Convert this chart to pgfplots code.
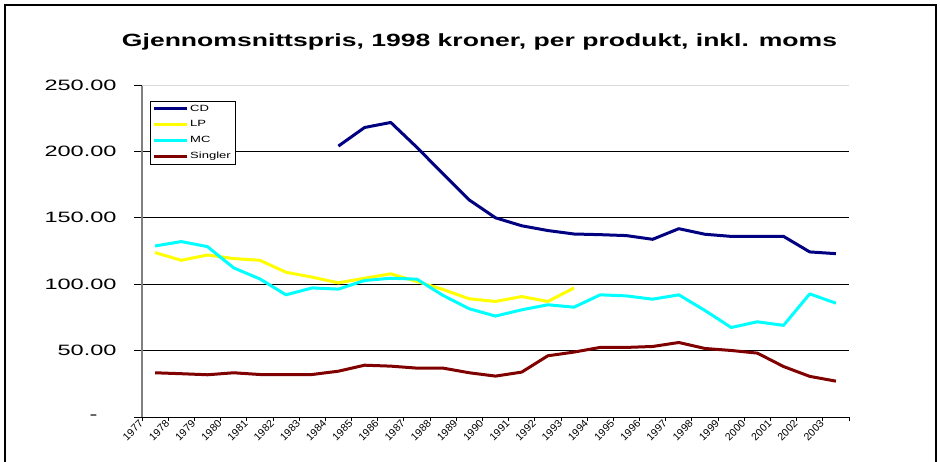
\documentclass[border=0pt]{standalone}
\usepackage{fontspec}
\setmainfont{Liberation Sans}
\newfontfamily\titlefont[FakeStretch=1.5]{Liberation Sans}
\newfontfamily\ytfont[FakeStretch=1.57]{Liberation Sans}
\newfontfamily\legfont[FakeStretch=1.45]{Liberation Sans}
\usepackage{pgfplots}
\pgfplotsset{compat=1.18}
\definecolor{cdc}{HTML}{000080}
\definecolor{lpc}{HTML}{FFFF00}
\definecolor{mcc}{HTML}{00FFFF}
\definecolor{sgc}{HTML}{800000}
\begin{document}
\begin{tikzpicture}
\path[use as bounding box] (0pt,0pt) rectangle (940pt,461pt);
\draw[line width=2pt] (5pt,-5pt) -- (5pt,455.5pt) -- (936pt,455.5pt) -- (936pt,-5pt);
\node[anchor=base, inner sep=0pt, font=\titlefont\bfseries\fontsize{17.7}{20}\selectfont] at (479.5pt,414pt) {Gjennomsnittspris, 1998 kroner, per produkt, inkl. moms};
\begin{axis}[
  at={(142pt,44pt)}, anchor=south west, scale only axis,
  width=707pt, height=332pt,
  xmin=0, xmax=27, ymin=0, ymax=250,
  axis x line=bottom, axis y line=left, axis line style={-},
  x axis line style={black, line width=1pt},
  y axis line style={gray, line width=2pt},
  tick align=outside,
  xtick={0,1,...,27},
  xticklabels={1977,1978,1979,1980,1981,1982,1983,1984,1985,1986,1987,1988,1989,1990,1991,1992,1993,1994,1995,1996,1997,1998,1999,2000,2001,2002,2003,{}},
  xtick style={black, line width=0.8pt, /pgfplots/major tick length=4pt},
  xticklabel style={font=\fontsize{10.5}{11}\selectfont, rotate=45, anchor=east, inner sep=1pt},
  ytick={0,50,100,150,200},
  yticklabels={{\makebox[27pt][l]{-}},50.00,100.00,150.00,200.00},
  extra y ticks={250},
  extra y tick labels={250.00},
  extra y tick style={ymajorgrids=true, major grid style={gray!30, line width=1pt}},
  ytick style={black, line width=0.8pt, /pgfplots/major tick length=8pt},
  yticklabel style={font=\ytfont\fontsize{15}{15}\selectfont, anchor=east, inner sep=0pt, xshift=-21pt},
  /pgf/number format/assume math mode=true,
  ymajorgrids=true,
  major grid style={black, line width=0.8pt},
  legend style={at={(rel axis cs:0.0113,0.9527)}, anchor=north west, draw=black, thin,
    font=\legfont\fontsize{9}{10}\selectfont, inner xsep=2pt, inner ysep=2pt, row sep=4pt,
    cells={anchor=west}},
  legend cell align=left,
  legend image code/.code={\draw[#1, line width=3pt] (0pt,0pt) -- (33pt,0pt);},
  every axis plot/.append style={line width=3pt, no markers, line join=round},
]
\addplot[cdc] coordinates {
(7.5,204) (8.5,218) (9.5,221.8) (10.5,203) (11.5,183) (12.5,163.4) (13.5,150) (14.5,144)
(15.5,140.4) (16.5,137.8) (17.5,137.3) (18.5,136.6) (19.5,133.8) (20.5,141.8) (21.5,137.6)
(22.5,136) (23.5,136) (24.5,136) (25.5,124.3) (26.5,123)};
\addlegendentry{CD}
\addplot[lpc] coordinates {
(0.5,123.8) (1.5,118) (2.5,122) (3.5,119.3) (4.5,118) (5.5,109) (6.5,105.3) (7.5,101)
(8.5,104.5) (9.5,107.8) (10.5,102) (11.5,96) (12.5,89) (13.5,87) (14.5,90.7) (15.5,87) (16.5,97.2)};
\addlegendentry{LP}
\addplot[mcc] coordinates {
(0.5,128.8) (1.5,132.1) (2.5,128.3) (3.5,112.3) (4.5,104) (5.5,92) (6.5,97.2) (7.5,96.3)
(8.5,102.8) (9.5,104.5) (10.5,103.8) (11.5,91.5) (12.5,81.5) (13.5,76) (14.5,80.7) (15.5,84.5)
(16.5,82.7) (17.5,92) (18.5,91.2) (19.5,88.7) (20.5,92) (21.5,80.2) (22.5,67.4) (23.5,71.7)
(24.5,69) (25.5,92.7) (26.5,85.7)};
\addlegendentry{MC}
\addplot[sgc] coordinates {
(0.5,33.3) (1.5,32.6) (2.5,31.8) (3.5,33.3) (4.5,32) (5.5,32) (6.5,32) (7.5,34.5)
(8.5,39) (9.5,38.3) (10.5,36.8) (11.5,36.8) (12.5,33.3) (13.5,30.8) (14.5,33.8) (15.5,46.1)
(16.5,48.9) (17.5,52.4) (18.5,52.4) (19.5,53.1) (20.5,56.1) (21.5,51.6) (22.5,50.1) (23.5,48.1)
(24.5,38) (25.5,30.6) (26.5,27)};
\addlegendentry{Singler}
\end{axis}
\end{tikzpicture}
\end{document}
